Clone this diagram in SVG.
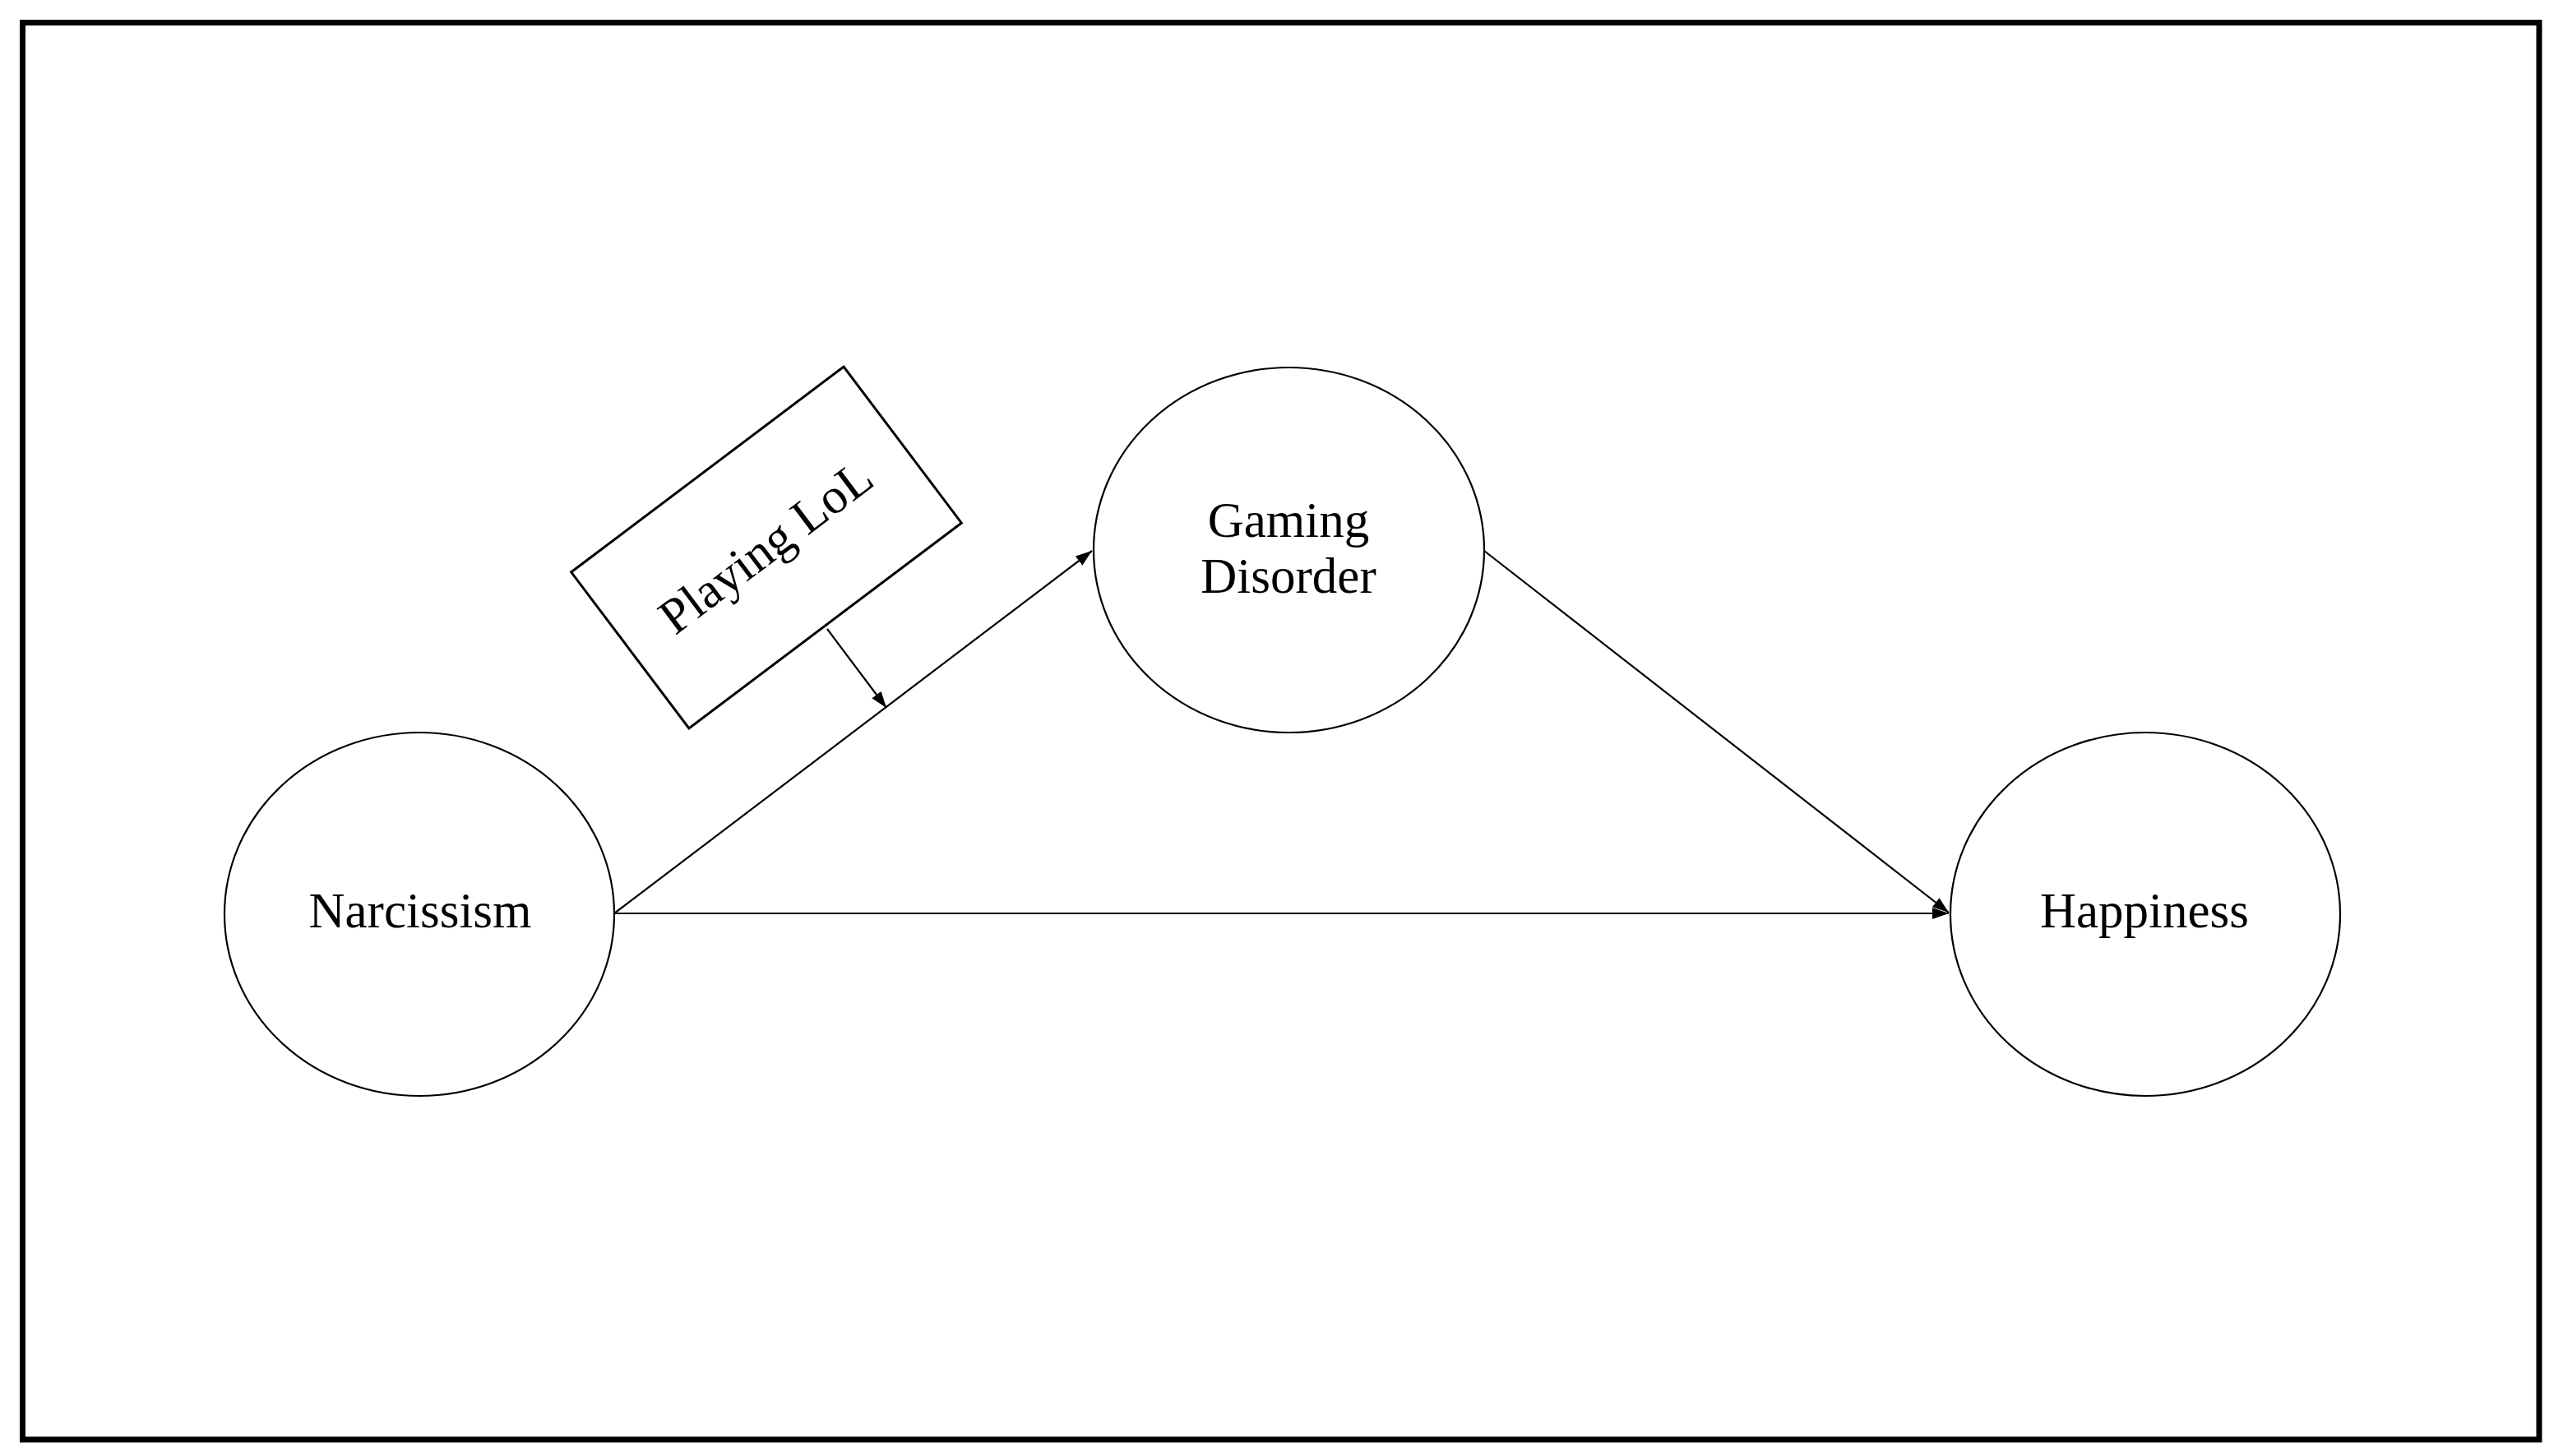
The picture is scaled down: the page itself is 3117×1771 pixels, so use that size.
<svg xmlns="http://www.w3.org/2000/svg" width="3117" height="1771" viewBox="0 0 3117 1771">
  <style>
    .node { fill: #ffffff; stroke: #000000; stroke-width: 2.2; }
    .box { fill: #ffffff; stroke: #000000; stroke-width: 3; }
    .edge { fill: none; stroke: #000000; stroke-width: 2.2; marker-end: url(#arrow); }
    .label { font-family: "Liberation Serif", "Times New Roman", serif; font-size: 61px; fill: #000000; text-anchor: middle; }
  </style>
  <defs>
    <marker id="arrow" markerUnits="userSpaceOnUse" markerWidth="22" markerHeight="16" refX="20" refY="7" orient="auto">
      <path d="M0,0 L20,7 L0,14 Z" fill="#000000"/>
    </marker>
  </defs>
  <rect x="0" y="0" width="3117" height="1771" fill="#ffffff"/>
  <rect x="27.5" y="27.5" width="3060.5" height="1723.5" fill="none" stroke="#000000" stroke-width="7"/>

  <g id="connectors">
    <line class="edge" x1="747" y1="1111" x2="1328" y2="670"/>
    <line class="edge" x1="1805" y1="670" x2="2370" y2="1110"/>
    <line class="edge" x1="747" y1="1111" x2="2370" y2="1111"/>
    <line class="edge" x1="1006" y1="765" x2="1078" y2="861"/>
  </g>

  <g id="node-narcissism">
    <ellipse class="node" cx="510" cy="1112" rx="237" ry="221"/>
    <text class="label" x="511" y="1128">Narcissism</text>
  </g>

  <g id="node-gaming-disorder">
    <ellipse class="node" cx="1567.5" cy="669" rx="237.5" ry="222"/>
    <text class="label" x="1567" y="653">Gaming</text>
    <text class="label" x="1567" y="721">Disorder</text>
  </g>

  <g id="node-happiness">
    <ellipse class="node" cx="2609" cy="1112" rx="237" ry="221"/>
    <text class="label" x="2608" y="1128">Happiness</text>
  </g>

  <g id="node-playing-lol" transform="translate(932,666) rotate(-37)">
    <rect class="box" x="-207.5" y="-119" width="415" height="238"/>
    <text class="label" x="0" y="19">Playing LoL</text>
  </g>
</svg>
